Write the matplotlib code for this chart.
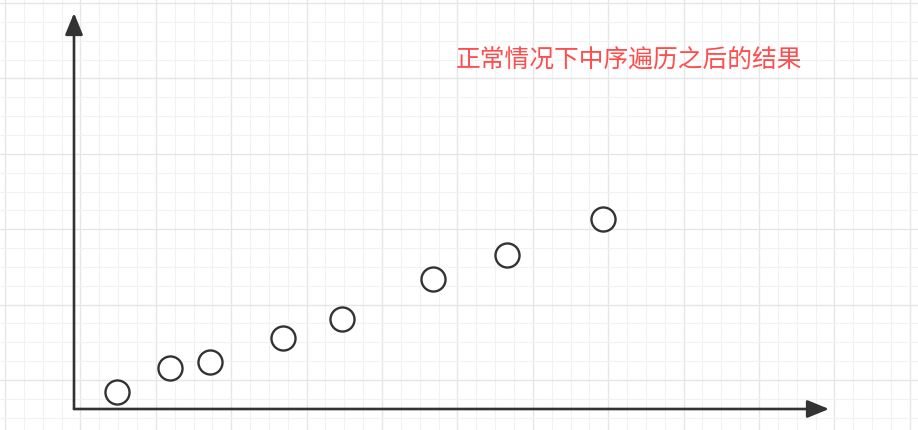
import numpy as np
import matplotlib.pyplot as plt

plt.rcParams['font.family'] = ['Noto Sans CJK SC', 'DejaVu Sans']

# point values, measured from the axis corner (pixels of the original drawing)
x_vals = [43, 96, 136, 209, 268, 359, 433, 529]
y_vals = [17, 41, 47, 71, 90, 130, 154, 190]
title_text = '正常情况下中序遍历之后的结果'

# figure in pixel units: origin of the drawn axes sits at (74, 409)
ox, oy = 74, 409
W, H = 918, 430

fig = plt.figure(figsize=(W / 100, H / 100), dpi=100)
ax = fig.add_axes([0, 0, 1, 1])
ax.set_xlim(-ox, W - ox)
ax.set_ylim(-(H - oy), oy)
ax.axis('off')

# background grid, minor every ~18.85 px, major every 4th line
step = 75.4 / 4
for i, gx in enumerate(np.arange(5, W, step)):
    ax.axvline(gx - ox, color='#e6e6e6' if i % 4 == 0 else '#f2f2f2',
               lw=1.0 if i % 4 == 0 else 0.8, zorder=0)
for i, gy in enumerate(np.arange(3, H, step)):
    ax.axhline(oy - gy, color='#e6e6e6' if i % 4 == 0 else '#f2f2f2',
               lw=1.0 if i % 4 == 0 else 0.8, zorder=0)

# axes arrows
arrow = dict(arrowstyle='-|>,head_length=1.1,head_width=0.45', color='#333333',
             lw=1.9, shrinkA=0, shrinkB=0, mutation_scale=12)
ax.annotate('', xy=(0, oy - 13), xytext=(0, 0), arrowprops=arrow, zorder=2)
ax.annotate('', xy=(829 - ox, 0), xytext=(0, 0), arrowprops=arrow, zorder=2)

# points
ax.scatter(x_vals, y_vals, s=300, facecolors='white', edgecolors='#333333',
           linewidths=1.7, zorder=3)

ax.text(629 - ox, oy - 61, title_text, color='#ff4d4d', fontsize=17.8,
        ha='center', va='center')

fig.savefig('out.png', dpi=100)
